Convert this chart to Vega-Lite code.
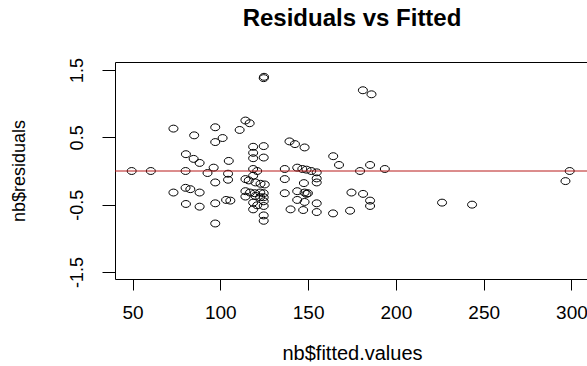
{
  "$schema": "https://vega.github.io/schema/vega-lite/v6.json",
  "width": 474,
  "height": 217,
  "autosize": "none",
  "padding": {"left": 115, "top": 62, "right": 0, "bottom": 87},
  "background": "#ffffff",
  "config": {
    "font": "Liberation Sans",
    "view": {"stroke": "#000000", "strokeWidth": 1}
  },
  "title": {
    "text": "Residuals vs Fitted",
    "fontSize": 24,
    "fontWeight": "bold",
    "color": "#000000",
    "anchor": "middle",
    "frame": "group",
    "baseline": "alphabetic",
    "offset": 8
  },
  "layer": [
    {
      "data": {
        "values": [
          {"fitted": 49.5, "resid": 0.00},
          {"fitted": 60.4, "resid": 0.00},
          {"fitted": 73.3, "resid": 0.63},
          {"fitted": 85.1, "resid": 0.53},
          {"fitted": 97.1, "resid": 0.65},
          {"fitted": 97.1, "resid": 0.43},
          {"fitted": 101.3, "resid": 0.49},
          {"fitted": 111.0, "resid": 0.61},
          {"fitted": 114.3, "resid": 0.75},
          {"fitted": 116.7, "resid": 0.71},
          {"fitted": 124.7, "resid": 1.38},
          {"fitted": 124.9, "resid": 1.40},
          {"fitted": 80.4, "resid": 0.25},
          {"fitted": 84.8, "resid": 0.18},
          {"fitted": 88.2, "resid": 0.12},
          {"fitted": 96.2, "resid": 0.05},
          {"fitted": 104.8, "resid": 0.15},
          {"fitted": 92.7, "resid": -0.03},
          {"fitted": 80.2, "resid": 0.00},
          {"fitted": 118.7, "resid": 0.36},
          {"fitted": 118.7, "resid": 0.27},
          {"fitted": 118.7, "resid": 0.19},
          {"fitted": 124.7, "resid": 0.37},
          {"fitted": 124.7, "resid": 0.20},
          {"fitted": 118.7, "resid": 0.03},
          {"fitted": 121.0, "resid": 0.00},
          {"fitted": 139.4, "resid": 0.44},
          {"fitted": 142.5, "resid": 0.40},
          {"fitted": 148.0, "resid": 0.35},
          {"fitted": 164.3, "resid": 0.22},
          {"fitted": 167.6, "resid": 0.09},
          {"fitted": 136.7, "resid": 0.03},
          {"fitted": 143.8, "resid": 0.05},
          {"fitted": 146.7, "resid": 0.03},
          {"fitted": 149.1, "resid": 0.02},
          {"fitted": 151.8, "resid": 0.00},
          {"fitted": 154.9, "resid": -0.02},
          {"fitted": 104.4, "resid": -0.04},
          {"fitted": 104.4, "resid": -0.13},
          {"fitted": 97.1, "resid": -0.17},
          {"fitted": 73.3, "resid": -0.32},
          {"fitted": 80.2, "resid": -0.25},
          {"fitted": 82.9, "resid": -0.27},
          {"fitted": 88.2, "resid": -0.32},
          {"fitted": 80.4, "resid": -0.49},
          {"fitted": 88.2, "resid": -0.53},
          {"fitted": 97.1, "resid": -0.48},
          {"fitted": 103.3, "resid": -0.43},
          {"fitted": 105.7, "resid": -0.44},
          {"fitted": 97.1, "resid": -0.78},
          {"fitted": 118.7, "resid": -0.07},
          {"fitted": 114.3, "resid": -0.12},
          {"fitted": 116.2, "resid": -0.14},
          {"fitted": 120.0, "resid": -0.17},
          {"fitted": 122.9, "resid": -0.19},
          {"fitted": 125.3, "resid": -0.20},
          {"fitted": 114.3, "resid": -0.30},
          {"fitted": 116.9, "resid": -0.32},
          {"fitted": 119.6, "resid": -0.33},
          {"fitted": 122.7, "resid": -0.32},
          {"fitted": 124.7, "resid": -0.33},
          {"fitted": 114.3, "resid": -0.38},
          {"fitted": 120.0, "resid": -0.37},
          {"fitted": 122.7, "resid": -0.39},
          {"fitted": 124.7, "resid": -0.39},
          {"fitted": 118.7, "resid": -0.47},
          {"fitted": 121.0, "resid": -0.51},
          {"fitted": 124.7, "resid": -0.45},
          {"fitted": 124.7, "resid": -0.52},
          {"fitted": 118.7, "resid": -0.57},
          {"fitted": 124.7, "resid": -0.66},
          {"fitted": 124.7, "resid": -0.74},
          {"fitted": 136.7, "resid": -0.12},
          {"fitted": 136.7, "resid": -0.33},
          {"fitted": 147.6, "resid": -0.18},
          {"fitted": 143.8, "resid": -0.30},
          {"fitted": 148.0, "resid": -0.32},
          {"fitted": 149.9, "resid": -0.33},
          {"fitted": 149.1, "resid": -0.34},
          {"fitted": 143.8, "resid": -0.43},
          {"fitted": 148.0, "resid": -0.46},
          {"fitted": 140.0, "resid": -0.57},
          {"fitted": 147.2, "resid": -0.58},
          {"fitted": 154.9, "resid": -0.11},
          {"fitted": 154.9, "resid": -0.17},
          {"fitted": 154.9, "resid": -0.48},
          {"fitted": 154.9, "resid": -0.61},
          {"fitted": 164.2, "resid": -0.63},
          {"fitted": 174.7, "resid": -0.32},
          {"fitted": 181.3, "resid": -0.34},
          {"fitted": 173.9, "resid": -0.59},
          {"fitted": 185.3, "resid": -0.44},
          {"fitted": 185.3, "resid": -0.52},
          {"fitted": 226.3, "resid": -0.47},
          {"fitted": 243.4, "resid": -0.50},
          {"fitted": 296.6, "resid": -0.15},
          {"fitted": 299.0, "resid": 0.00},
          {"fitted": 181.2, "resid": 1.20},
          {"fitted": 186.1, "resid": 1.14},
          {"fitted": 179.6, "resid": 0.00},
          {"fitted": 185.3, "resid": 0.09},
          {"fitted": 193.7, "resid": 0.03}
        ]
      },
      "mark": {
        "type": "point",
        "shape": "M -1.3 0 A 1.3 1 0 1 0 1.3 0 A 1.3 1 0 1 0 -1.3 0 Z",
        "size": 48,
        "filled": false,
        "stroke": "#000000",
        "strokeWidth": 1,
        "opacity": 1
      },
      "encoding": {
        "x": {
          "field": "fitted",
          "type": "quantitative",
          "scale": {"domain": [40, 310], "nice": false, "zero": false},
          "axis": {
            "title": "nb$fitted.values",
            "values": [50, 100, 150, 200, 250, 300],
            "grid": false,
            "domain": false,
            "ticks": true,
            "tickColor": "#000000",
            "tickSize": 11,
            "labelFontSize": 19,
            "labelColor": "#000000",
            "labelPadding": 13,
            "labelFlush": false,
            "labelOverlap": false,
            "titleFontSize": 20,
            "titleFontWeight": "normal",
            "titleColor": "#000000",
            "titlePadding": 21
          }
        },
        "y": {
          "field": "resid",
          "type": "quantitative",
          "scale": {"domain": [-1.605, 1.62], "nice": false, "zero": false},
          "axis": {
            "title": "nb$residuals",
            "values": [-1.5, -1, -0.5, 0, 0.5, 1, 1.5],
            "labelExpr": "abs(datum.value) % 1 == 0.5 ? toString(datum.value) : ''",
            "grid": false,
            "domain": false,
            "tickColor": "#000000",
            "tickSize": 13,
            "labelFontSize": 18,
            "labelColor": "#000000",
            "labelAngle": -90,
            "labelAlign": "center",
            "labelBaseline": "alphabetic",
            "labelPadding": 20,
            "labelOverlap": false,
            "labelFlush": false,
            "titleFontSize": 18,
            "titleFontWeight": "normal",
            "titleColor": "#000000",
            "titleBaseline": "alphabetic",
            "titlePadding": 44
          }
        }
      }
    },
    {
      "data": {"values": [{"h": 0}]},
      "mark": {"type": "rule", "color": "#b81a1a", "strokeWidth": 1},
      "encoding": {
        "y": {"field": "h", "type": "quantitative"}
      }
    }
  ]
}
